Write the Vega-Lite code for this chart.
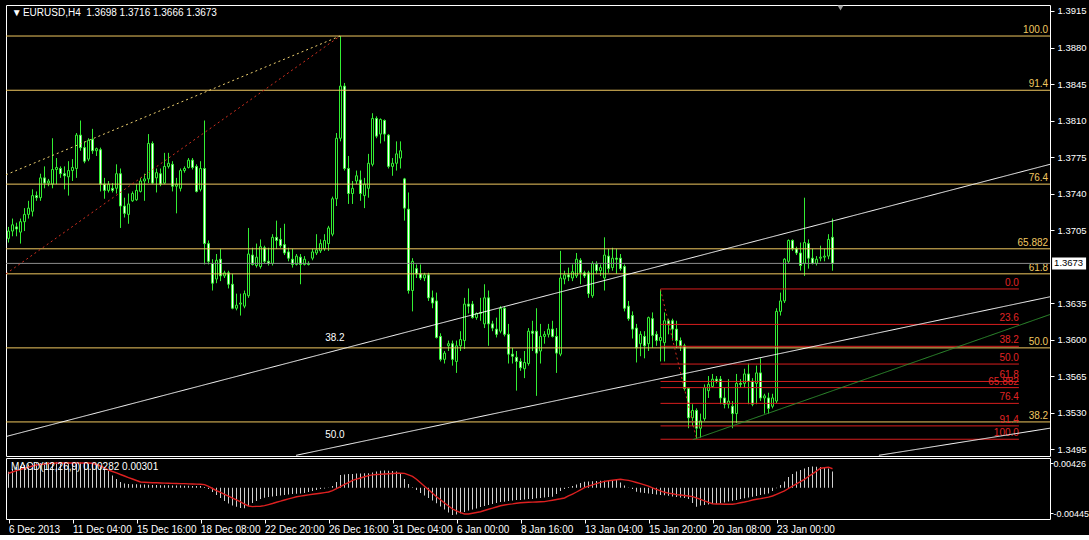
{
"$schema": "https://vega.github.io/schema/vega-lite/v6.json",
"background": "#000000",
"padding": {"left": 3, "top": 4, "right": 0, "bottom": 0},
"spacing": -1,
"config": {
 "view": {"stroke": "#ffffff", "strokeWidth": 1},
 "axis": {"grid": false, "domain": false, "labelColor": "#ffffff", "tickColor": "#ffffff", "labelFont": "Liberation Sans", "labelFontSize": 9.5, "tickSize": 4},
 "text": {"font": "Liberation Sans", "fontSize": 9.5}
},
"datasets": {
"bars": [
{"i":0,"o":1.3697,"h":1.3708,"l":1.3693,"c":1.3704,"m":0.00278,"s":0.00251},
{"i":1,"o":1.3704,"h":1.3716,"l":1.3699,"c":1.3710,"m":0.00325,"s":0.00273},
{"i":2,"o":1.3708,"h":1.3712,"l":1.3699,"c":1.3706,"m":0.00360,"s":0.00296},
{"i":3,"o":1.3703,"h":1.3716,"l":1.3692,"c":1.3713,"m":0.00378,"s":0.00317},
{"i":4,"o":1.3713,"h":1.3726,"l":1.3704,"c":1.3720,"m":0.00395,"s":0.00338},
{"i":5,"o":1.3720,"h":1.3733,"l":1.3716,"c":1.3726,"m":0.00404,"s":0.00357},
{"i":6,"o":1.3723,"h":1.3744,"l":1.3718,"c":1.3738,"m":0.00412,"s":0.00378},
{"i":7,"o":1.3738,"h":1.3742,"l":1.3733,"c":1.3736,"m":0.00425,"s":0.00395},
{"i":8,"o":1.3736,"h":1.3759,"l":1.3733,"c":1.3755,"m":0.00430,"s":0.00404},
{"i":9,"o":1.3755,"h":1.3766,"l":1.3745,"c":1.3750,"m":0.00435,"s":0.00412},
{"i":10,"o":1.3750,"h":1.3754,"l":1.3747,"c":1.3752,"m":0.00438,"s":0.00421},
{"i":11,"o":1.3749,"h":1.3793,"l":1.3745,"c":1.3763,"m":0.00442,"s":0.00426},
{"i":12,"o":1.3763,"h":1.3774,"l":1.3749,"c":1.3765,"m":0.00447,"s":0.00430},
{"i":13,"o":1.3764,"h":1.3766,"l":1.3755,"c":1.3759,"m":0.00447,"s":0.00430},
{"i":14,"o":1.3759,"h":1.3766,"l":1.3744,"c":1.3757,"m":0.00442,"s":0.00430},
{"i":15,"o":1.3756,"h":1.3771,"l":1.3738,"c":1.3762,"m":0.00438,"s":0.00430},
{"i":16,"o":1.3762,"h":1.3773,"l":1.3752,"c":1.3765,"m":0.00438,"s":0.00430},
{"i":17,"o":1.3764,"h":1.3798,"l":1.3755,"c":1.3796,"m":0.00442,"s":0.00430},
{"i":18,"o":1.3796,"h":1.3810,"l":1.3781,"c":1.3784,"m":0.00438,"s":0.00430},
{"i":19,"o":1.3784,"h":1.3790,"l":1.3769,"c":1.3771,"m":0.00430,"s":0.00430},
{"i":20,"o":1.3773,"h":1.3793,"l":1.3771,"c":1.3791,"m":0.00421,"s":0.00430},
{"i":21,"o":1.3792,"h":1.3802,"l":1.3778,"c":1.3781,"m":0.00412,"s":0.00425},
{"i":22,"o":1.3781,"h":1.3784,"l":1.3776,"c":1.3783,"m":0.00395,"s":0.00404},
{"i":23,"o":1.3782,"h":1.3784,"l":1.3742,"c":1.3749,"m":0.00378,"s":0.00378},
{"i":24,"o":1.3749,"h":1.3755,"l":1.3735,"c":1.3743,"m":0.00360,"s":0.00343},
{"i":25,"o":1.3743,"h":1.3752,"l":1.3741,"c":1.3749,"m":0.00291,"s":0.00308},
{"i":26,"o":1.3745,"h":1.3750,"l":1.3741,"c":1.3743,"m":0.00212,"s":0.00282},
{"i":27,"o":1.3745,"h":1.3768,"l":1.3740,"c":1.3759,"m":0.00151,"s":0.00259},
{"i":28,"o":1.3759,"h":1.3764,"l":1.3707,"c":1.3728,"m":0.00099,"s":0.00230},
{"i":29,"o":1.3728,"h":1.3736,"l":1.3717,"c":1.3721,"m":0.00073,"s":0.00204},
{"i":30,"o":1.3720,"h":1.3740,"l":1.3711,"c":1.3730,"m":0.00064,"s":0.00177},
{"i":31,"o":1.3733,"h":1.3742,"l":1.3732,"c":1.3740,"m":0.00061,"s":0.00151},
{"i":32,"o":1.3734,"h":1.3749,"l":1.3733,"c":1.3743,"m":0.00059,"s":0.00125},
{"i":33,"o":1.3742,"h":1.3755,"l":1.3741,"c":1.3752,"m":0.00056,"s":0.00099},
{"i":34,"o":1.3752,"h":1.3759,"l":1.3733,"c":1.3754,"m":0.00054,"s":0.00094},
{"i":35,"o":1.3754,"h":1.3797,"l":1.3750,"c":1.3788,"m":0.00050,"s":0.00090},
{"i":36,"o":1.3788,"h":1.3790,"l":1.3749,"c":1.3750,"m":0.00047,"s":0.00087},
{"i":37,"o":1.3755,"h":1.3764,"l":1.3741,"c":1.3760,"m":0.00047,"s":0.00085},
{"i":38,"o":1.3759,"h":1.3764,"l":1.3747,"c":1.3749,"m":0.00044,"s":0.00082},
{"i":39,"o":1.3750,"h":1.3779,"l":1.3749,"c":1.3766,"m":0.00042,"s":0.00080},
{"i":40,"o":1.3766,"h":1.3779,"l":1.3764,"c":1.3769,"m":0.00042,"s":0.00077},
{"i":41,"o":1.3768,"h":1.3771,"l":1.3742,"c":1.3747,"m":0.00040,"s":0.00075},
{"i":42,"o":1.3747,"h":1.3755,"l":1.3721,"c":1.3749,"m":0.00038,"s":0.00073},
{"i":43,"o":1.3745,"h":1.3764,"l":1.3742,"c":1.3762,"m":0.00037,"s":0.00071},
{"i":44,"o":1.3762,"h":1.3766,"l":1.3760,"c":1.3764,"m":0.00035,"s":0.00070},
{"i":45,"o":1.3765,"h":1.3774,"l":1.3764,"c":1.3772,"m":0.00033,"s":0.00066},
{"i":46,"o":1.3772,"h":1.3774,"l":1.3763,"c":1.3765,"m":0.00031,"s":0.00064},
{"i":47,"o":1.3766,"h":1.3768,"l":1.3741,"c":1.3742,"m":0.00030,"s":0.00063},
{"i":48,"o":1.3744,"h":1.3771,"l":1.3742,"c":1.3764,"m":0.00030,"s":0.00061},
{"i":49,"o":1.3764,"h":1.3810,"l":1.3672,"c":1.3692,"m":0.00012,"s":0.00054},
{"i":50,"o":1.3692,"h":1.3695,"l":1.3672,"c":1.3675,"m":-0.00023,"s":0.00021},
{"i":51,"o":1.3673,"h":1.3677,"l":1.3647,"c":1.3654,"m":-0.00075,"s":-0.00014},
{"i":52,"o":1.3658,"h":1.3682,"l":1.3654,"c":1.3676,"m":-0.00127,"s":-0.00049},
{"i":53,"o":1.3677,"h":1.3687,"l":1.3656,"c":1.3661,"m":-0.00179,"s":-0.00082},
{"i":54,"o":1.3661,"h":1.3666,"l":1.3659,"c":1.3664,"m":-0.00231,"s":-0.00115},
{"i":55,"o":1.3664,"h":1.3666,"l":1.3649,"c":1.3653,"m":-0.00275,"s":-0.00148},
{"i":56,"o":1.3653,"h":1.3663,"l":1.3629,"c":1.3630,"m":-0.00310,"s":-0.00181},
{"i":57,"o":1.3630,"h":1.3644,"l":1.3628,"c":1.3633,"m":-0.00331,"s":-0.00214},
{"i":58,"o":1.3634,"h":1.3644,"l":1.3623,"c":1.3635,"m":-0.00353,"s":-0.00249},
{"i":59,"o":1.3632,"h":1.3647,"l":1.3630,"c":1.3644,"m":-0.00358,"s":-0.00284},
{"i":60,"o":1.3642,"h":1.3707,"l":1.3640,"c":1.3682,"m":-0.00318,"s":-0.00318},
{"i":61,"o":1.3681,"h":1.3688,"l":1.3671,"c":1.3672,"m":-0.00266,"s":-0.00329},
{"i":62,"o":1.3671,"h":1.3692,"l":1.3669,"c":1.3679,"m":-0.00231,"s":-0.00325},
{"i":63,"o":1.3670,"h":1.3696,"l":1.3668,"c":1.3689,"m":-0.00197,"s":-0.00322},
{"i":64,"o":1.3688,"h":1.3690,"l":1.3673,"c":1.3675,"m":-0.00174,"s":-0.00313},
{"i":65,"o":1.3675,"h":1.3688,"l":1.3671,"c":1.3673,"m":-0.00162,"s":-0.00294},
{"i":66,"o":1.3673,"h":1.3701,"l":1.3671,"c":1.3698,"m":-0.00153,"s":-0.00275},
{"i":67,"o":1.3698,"h":1.3714,"l":1.3687,"c":1.3695,"m":-0.00144,"s":-0.00254},
{"i":68,"o":1.3696,"h":1.3707,"l":1.3688,"c":1.3690,"m":-0.00136,"s":-0.00235},
{"i":69,"o":1.3691,"h":1.3711,"l":1.3681,"c":1.3683,"m":-0.00127,"s":-0.00214},
{"i":70,"o":1.3684,"h":1.3688,"l":1.3675,"c":1.3678,"m":-0.00118,"s":-0.00195},
{"i":71,"o":1.3677,"h":1.3687,"l":1.3669,"c":1.3672,"m":-0.00110,"s":-0.00176},
{"i":72,"o":1.3672,"h":1.3682,"l":1.3671,"c":1.3680,"m":-0.00104,"s":-0.00157},
{"i":73,"o":1.3679,"h":1.3682,"l":1.3653,"c":1.3672,"m":-0.00099,"s":-0.00146},
{"i":74,"o":1.3672,"h":1.3680,"l":1.3671,"c":1.3677,"m":-0.00092,"s":-0.00136},
{"i":75,"o":1.3673,"h":1.3675,"l":1.3671,"c":1.3672,"m":-0.00075,"s":-0.00125},
{"i":76,"o":1.3678,"h":1.3687,"l":1.3676,"c":1.3684,"m":-0.00057,"s":-0.00115},
{"i":77,"o":1.3683,"h":1.3701,"l":1.3681,"c":1.3686,"m":-0.00040,"s":-0.00106},
{"i":78,"o":1.3685,"h":1.3696,"l":1.3683,"c":1.3692,"m":-0.00023,"s":-0.00096},
{"i":79,"o":1.3687,"h":1.3701,"l":1.3685,"c":1.3695,"m":-0.00014,"s":-0.00085},
{"i":80,"o":1.3692,"h":1.3709,"l":1.3685,"c":1.3707,"m":0.00003,"s":-0.00075},
{"i":81,"o":1.3701,"h":1.3737,"l":1.3699,"c":1.3735,"m":0.00030,"s":-0.00052},
{"i":82,"o":1.3735,"h":1.3798,"l":1.3728,"c":1.3793,"m":0.00099,"s":-0.00016},
{"i":83,"o":1.3793,"h":1.3891,"l":1.3790,"c":1.3843,"m":0.00221,"s":0.00019},
{"i":84,"o":1.3843,"h":1.3846,"l":1.3762,"c":1.3764,"m":0.00230,"s":0.00056},
{"i":85,"o":1.3764,"h":1.3776,"l":1.3730,"c":1.3740,"m":0.00238,"s":0.00090},
{"i":86,"o":1.3740,"h":1.3752,"l":1.3730,"c":1.3745,"m":0.00238,"s":0.00129},
{"i":87,"o":1.3752,"h":1.3762,"l":1.3749,"c":1.3757,"m":0.00247,"s":0.00150},
{"i":88,"o":1.3753,"h":1.3762,"l":1.3733,"c":1.3740,"m":0.00247,"s":0.00169},
{"i":89,"o":1.3738,"h":1.3755,"l":1.3726,"c":1.3749,"m":0.00251,"s":0.00190},
{"i":90,"o":1.3745,"h":1.3778,"l":1.3736,"c":1.3769,"m":0.00251,"s":0.00211},
{"i":91,"o":1.3768,"h":1.3817,"l":1.3766,"c":1.3812,"m":0.00264,"s":0.00224},
{"i":92,"o":1.3812,"h":1.3814,"l":1.3793,"c":1.3795,"m":0.00282,"s":0.00230},
{"i":93,"o":1.3797,"h":1.3812,"l":1.3788,"c":1.3811,"m":0.00296,"s":0.00233},
{"i":94,"o":1.3810,"h":1.3811,"l":1.3790,"c":1.3797,"m":0.00299,"s":0.00238},
{"i":95,"o":1.3796,"h":1.3797,"l":1.3764,"c":1.3766,"m":0.00296,"s":0.00242},
{"i":96,"o":1.3766,"h":1.3774,"l":1.3757,"c":1.3769,"m":0.00291,"s":0.00247},
{"i":97,"o":1.3769,"h":1.3790,"l":1.3762,"c":1.3778,"m":0.00282,"s":0.00251},
{"i":98,"o":1.3774,"h":1.3790,"l":1.3764,"c":1.3781,"m":0.00256,"s":0.00254},
{"i":99,"o":1.3754,"h":1.3755,"l":1.3714,"c":1.3726,"m":0.00151,"s":0.00249},
{"i":100,"o":1.3725,"h":1.3741,"l":1.3644,"c":1.3647,"m":0.00064,"s":0.00224},
{"i":101,"o":1.3647,"h":1.3678,"l":1.3627,"c":1.3675,"m":0.00007,"s":0.00198},
{"i":102,"o":1.3668,"h":1.3672,"l":1.3659,"c":1.3663,"m":-0.00040,"s":0.00146},
{"i":103,"o":1.3663,"h":1.3672,"l":1.3657,"c":1.3659,"m":-0.00092,"s":0.00085},
{"i":104,"o":1.3659,"h":1.3664,"l":1.3656,"c":1.3662,"m":-0.00136,"s":0.00026},
{"i":105,"o":1.3662,"h":1.3664,"l":1.3637,"c":1.3640,"m":-0.00179,"s":-0.00033},
{"i":106,"o":1.3640,"h":1.3647,"l":1.3630,"c":1.3635,"m":-0.00223,"s":-0.00096},
{"i":107,"o":1.3637,"h":1.3645,"l":1.3601,"c":1.3602,"m":-0.00271,"s":-0.00157},
{"i":108,"o":1.3603,"h":1.3606,"l":1.3579,"c":1.3581,"m":-0.00327,"s":-0.00211},
{"i":109,"o":1.3581,"h":1.3589,"l":1.3577,"c":1.3587,"m":-0.00379,"s":-0.00266},
{"i":110,"o":1.3594,"h":1.3599,"l":1.3589,"c":1.3596,"m":-0.00432,"s":-0.00318},
{"i":111,"o":1.3596,"h":1.3599,"l":1.3575,"c":1.3581,"m":-0.00475,"s":-0.00371},
{"i":112,"o":1.3579,"h":1.3599,"l":1.3568,"c":1.3594,"m":-0.00466,"s":-0.00405},
{"i":113,"o":1.3594,"h":1.3608,"l":1.3589,"c":1.3600,"m":-0.00445,"s":-0.00435},
{"i":114,"o":1.3599,"h":1.3640,"l":1.3591,"c":1.3634,"m":-0.00423,"s":-0.00458},
{"i":115,"o":1.3634,"h":1.3649,"l":1.3625,"c":1.3632,"m":-0.00397,"s":-0.00459},
{"i":116,"o":1.3634,"h":1.3637,"l":1.3620,"c":1.3621,"m":-0.00379,"s":-0.00445},
{"i":117,"o":1.3621,"h":1.3626,"l":1.3619,"c":1.3625,"m":-0.00362,"s":-0.00432},
{"i":118,"o":1.3625,"h":1.3640,"l":1.3618,"c":1.3626,"m":-0.00336,"s":-0.00418},
{"i":119,"o":1.3615,"h":1.3653,"l":1.3611,"c":1.3640,"m":-0.00318,"s":-0.00397},
{"i":120,"o":1.3640,"h":1.3647,"l":1.3594,"c":1.3615,"m":-0.00301,"s":-0.00376},
{"i":121,"o":1.3615,"h":1.3618,"l":1.3608,"c":1.3611,"m":-0.00284,"s":-0.00357},
{"i":122,"o":1.3610,"h":1.3621,"l":1.3602,"c":1.3605,"m":-0.00266,"s":-0.00336},
{"i":123,"o":1.3608,"h":1.3632,"l":1.3606,"c":1.3630,"m":-0.00249,"s":-0.00315},
{"i":124,"o":1.3630,"h":1.3632,"l":1.3603,"c":1.3605,"m":-0.00244,"s":-0.00301},
{"i":125,"o":1.3605,"h":1.3615,"l":1.3577,"c":1.3586,"m":-0.00231,"s":-0.00291},
{"i":126,"o":1.3586,"h":1.3592,"l":1.3577,"c":1.3584,"m":-0.00223,"s":-0.00282},
{"i":127,"o":1.3583,"h":1.3589,"l":1.3551,"c":1.3579,"m":-0.00214,"s":-0.00271},
{"i":128,"o":1.3579,"h":1.3582,"l":1.3570,"c":1.3573,"m":-0.00214,"s":-0.00261},
{"i":129,"o":1.3572,"h":1.3589,"l":1.3563,"c":1.3578,"m":-0.00205,"s":-0.00258},
{"i":130,"o":1.3577,"h":1.3611,"l":1.3575,"c":1.3608,"m":-0.00197,"s":-0.00254},
{"i":131,"o":1.3608,"h":1.3618,"l":1.3589,"c":1.3606,"m":-0.00197,"s":-0.00252},
{"i":132,"o":1.3608,"h":1.3630,"l":1.3546,"c":1.3587,"m":-0.00184,"s":-0.00249},
{"i":133,"o":1.3589,"h":1.3615,"l":1.3577,"c":1.3603,"m":-0.00179,"s":-0.00245},
{"i":134,"o":1.3603,"h":1.3608,"l":1.3596,"c":1.3605,"m":-0.00171,"s":-0.00242},
{"i":135,"o":1.3605,"h":1.3615,"l":1.3602,"c":1.3610,"m":-0.00162,"s":-0.00230},
{"i":136,"o":1.3610,"h":1.3618,"l":1.3602,"c":1.3603,"m":-0.00157,"s":-0.00218},
{"i":137,"o":1.3603,"h":1.3611,"l":1.3568,"c":1.3587,"m":-0.00110,"s":-0.00205},
{"i":138,"o":1.3586,"h":1.3685,"l":1.3584,"c":1.3659,"m":-0.00057,"s":-0.00193},
{"i":139,"o":1.3658,"h":1.3666,"l":1.3653,"c":1.3662,"m":-0.00023,"s":-0.00179},
{"i":140,"o":1.3662,"h":1.3669,"l":1.3656,"c":1.3660,"m":0.00012,"s":-0.00144},
{"i":141,"o":1.3659,"h":1.3672,"l":1.3656,"c":1.3665,"m":0.00030,"s":-0.00110},
{"i":142,"o":1.3661,"h":1.3683,"l":1.3659,"c":1.3677,"m":0.00056,"s":-0.00075},
{"i":143,"o":1.3676,"h":1.3678,"l":1.3653,"c":1.3664,"m":0.00082,"s":-0.00037},
{"i":144,"o":1.3664,"h":1.3666,"l":1.3659,"c":1.3661,"m":0.00104,"s":0.00000},
{"i":145,"o":1.3664,"h":1.3666,"l":1.3640,"c":1.3644,"m":0.00108,"s":0.00028},
{"i":146,"o":1.3642,"h":1.3675,"l":1.3640,"c":1.3673,"m":0.00113,"s":0.00049},
{"i":147,"o":1.3672,"h":1.3675,"l":1.3663,"c":1.3666,"m":0.00117,"s":0.00070},
{"i":148,"o":1.3666,"h":1.3672,"l":1.3661,"c":1.3669,"m":0.00120,"s":0.00092},
{"i":149,"o":1.3659,"h":1.3698,"l":1.3647,"c":1.3681,"m":0.00122,"s":0.00110},
{"i":150,"o":1.3680,"h":1.3687,"l":1.3664,"c":1.3668,"m":0.00125,"s":0.00120},
{"i":151,"o":1.3669,"h":1.3688,"l":1.3666,"c":1.3678,"m":0.00131,"s":0.00129},
{"i":152,"o":1.3678,"h":1.3687,"l":1.3663,"c":1.3677,"m":0.00134,"s":0.00139},
{"i":153,"o":1.3678,"h":1.3682,"l":1.3666,"c":1.3668,"m":0.00090,"s":0.00146},
{"i":154,"o":1.3670,"h":1.3672,"l":1.3627,"c":1.3630,"m":0.00038,"s":0.00137},
{"i":155,"o":1.3632,"h":1.3637,"l":1.3618,"c":1.3620,"m":0.00003,"s":0.00127},
{"i":156,"o":1.3623,"h":1.3627,"l":1.3601,"c":1.3610,"m":-0.00023,"s":0.00111},
{"i":157,"o":1.3611,"h":1.3615,"l":1.3578,"c":1.3592,"m":-0.00070,"s":0.00090},
{"i":158,"o":1.3596,"h":1.3608,"l":1.3584,"c":1.3605,"m":-0.00084,"s":0.00070},
{"i":159,"o":1.3603,"h":1.3608,"l":1.3582,"c":1.3594,"m":-0.00092,"s":0.00049},
{"i":160,"o":1.3596,"h":1.3622,"l":1.3589,"c":1.3621,"m":-0.00101,"s":0.00028},
{"i":161,"o":1.3620,"h":1.3626,"l":1.3592,"c":1.3604,"m":-0.00110,"s":-0.00003},
{"i":162,"o":1.3605,"h":1.3608,"l":1.3594,"c":1.3599,"m":-0.00118,"s":-0.00030},
{"i":163,"o":1.3599,"h":1.3648,"l":1.3579,"c":1.3602,"m":-0.00127,"s":-0.00056},
{"i":164,"o":1.3597,"h":1.3626,"l":1.3579,"c":1.3618,"m":-0.00131,"s":-0.00080},
{"i":165,"o":1.3618,"h":1.3620,"l":1.3605,"c":1.3614,"m":-0.00141,"s":-0.00094},
{"i":166,"o":1.3618,"h":1.3620,"l":1.3599,"c":1.3610,"m":-0.00153,"s":-0.00106},
{"i":167,"o":1.3610,"h":1.3618,"l":1.3592,"c":1.3599,"m":-0.00162,"s":-0.00120},
{"i":168,"o":1.3599,"h":1.3602,"l":1.3589,"c":1.3594,"m":-0.00171,"s":-0.00127},
{"i":169,"o":1.3594,"h":1.3596,"l":1.3551,"c":1.3553,"m":-0.00179,"s":-0.00136},
{"i":170,"o":1.3553,"h":1.3554,"l":1.3515,"c":1.3525,"m":-0.00197,"s":-0.00144},
{"i":171,"o":1.3525,"h":1.3538,"l":1.3517,"c":1.3532,"m":-0.00266,"s":-0.00155},
{"i":172,"o":1.3532,"h":1.3534,"l":1.3505,"c":1.3515,"m":-0.00331,"s":-0.00176},
{"i":173,"o":1.3515,"h":1.3529,"l":1.3506,"c":1.3522,"m":-0.00310,"s":-0.00202},
{"i":174,"o":1.3524,"h":1.3557,"l":1.3522,"c":1.3554,"m":-0.00301,"s":-0.00228},
{"i":175,"o":1.3551,"h":1.3565,"l":1.3544,"c":1.3557,"m":-0.00292,"s":-0.00254},
{"i":176,"o":1.3555,"h":1.3567,"l":1.3554,"c":1.3562,"m":-0.00284,"s":-0.00280},
{"i":177,"o":1.3562,"h":1.3565,"l":1.3558,"c":1.3560,"m":-0.00278,"s":-0.00284},
{"i":178,"o":1.3562,"h":1.3565,"l":1.3538,"c":1.3544,"m":-0.00271,"s":-0.00285},
{"i":179,"o":1.3544,"h":1.3554,"l":1.3534,"c":1.3538,"m":-0.00258,"s":-0.00287},
{"i":180,"o":1.3538,"h":1.3562,"l":1.3534,"c":1.3541,"m":-0.00240,"s":-0.00289},
{"i":181,"o":1.3536,"h":1.3541,"l":1.3515,"c":1.3529,"m":-0.00228,"s":-0.00289},
{"i":182,"o":1.3529,"h":1.3567,"l":1.3520,"c":1.3558,"m":-0.00214,"s":-0.00278},
{"i":183,"o":1.3558,"h":1.3562,"l":1.3554,"c":1.3557,"m":-0.00197,"s":-0.00263},
{"i":184,"o":1.3558,"h":1.3572,"l":1.3554,"c":1.3567,"m":-0.00184,"s":-0.00249},
{"i":185,"o":1.3567,"h":1.3577,"l":1.3538,"c":1.3560,"m":-0.00171,"s":-0.00233},
{"i":186,"o":1.3560,"h":1.3563,"l":1.3536,"c":1.3538,"m":-0.00157,"s":-0.00214},
{"i":187,"o":1.3558,"h":1.3575,"l":1.3538,"c":1.3568,"m":-0.00144,"s":-0.00202},
{"i":188,"o":1.3568,"h":1.3582,"l":1.3541,"c":1.3544,"m":-0.00127,"s":-0.00191},
{"i":189,"o":1.3544,"h":1.3548,"l":1.3529,"c":1.3546,"m":-0.00115,"s":-0.00177},
{"i":190,"o":1.3544,"h":1.3549,"l":1.3529,"c":1.3534,"m":-0.00101,"s":-0.00164},
{"i":191,"o":1.3536,"h":1.3548,"l":1.3534,"c":1.3544,"m":-0.00057,"s":-0.00144},
{"i":192,"o":1.3541,"h":1.3630,"l":1.3539,"c":1.3627,"m":-0.00010,"s":-0.00115},
{"i":193,"o":1.3627,"h":1.3645,"l":1.3623,"c":1.3637,"m":0.00047,"s":-0.00085},
{"i":194,"o":1.3637,"h":1.3678,"l":1.3635,"c":1.3677,"m":0.00108,"s":-0.00056},
{"i":195,"o":1.3675,"h":1.3696,"l":1.3673,"c":1.3695,"m":0.00186,"s":-0.00014},
{"i":196,"o":1.3695,"h":1.3696,"l":1.3685,"c":1.3687,"m":0.00238,"s":0.00026},
{"i":197,"o":1.3687,"h":1.3689,"l":1.3681,"c":1.3683,"m":0.00282,"s":0.00068},
{"i":198,"o":1.3683,"h":1.3693,"l":1.3666,"c":1.3671,"m":0.00308,"s":0.00106},
{"i":199,"o":1.3673,"h":1.3736,"l":1.3661,"c":1.3693,"m":0.00334,"s":0.00146},
{"i":200,"o":1.3692,"h":1.3696,"l":1.3668,"c":1.3678,"m":0.00360,"s":0.00195},
{"i":201,"o":1.3678,"h":1.3687,"l":1.3672,"c":1.3673,"m":0.00369,"s":0.00242},
{"i":202,"o":1.3673,"h":1.3680,"l":1.3671,"c":1.3677,"m":0.00365,"s":0.00289},
{"i":203,"o":1.3678,"h":1.3690,"l":1.3675,"c":1.3679,"m":0.00360,"s":0.00338},
{"i":204,"o":1.3679,"h":1.3687,"l":1.3675,"c":1.3680,"m":0.00355,"s":0.00348},
{"i":205,"o":1.3680,"h":1.3701,"l":1.3677,"c":1.3696,"m":0.00334,"s":0.00357},
{"i":206,"o":1.3698,"h":1.3716,"l":1.3666,"c":1.3673,"m":0.00282,"s":0.00330}
]
},
"vconcat": [
{
 "width": 1044,
 "height": 451,
 "layer": [
  {
   "data": {"name": "bars"},
   "mark": {"type": "rule", "color": "#33ee33", "strokeWidth": 1},
   "encoding": {
    "x": {"field": "i", "type": "quantitative", "scale": {"domain": [-0.625, 260.375], "nice": false, "zero": false, "padding": 0}, "axis": null},
    "y": {"field": "l", "type": "quantitative", "scale": {"domain": [1.348834, 1.392075], "nice": false, "zero": false, "padding": 0},
          "axis": {"orient": "right", "values": [1.3915, 1.388, 1.3845, 1.381, 1.3775, 1.374, 1.3705, 1.3635, 1.36, 1.3565, 1.353, 1.3495], "format": ".4f", "title": null, "labelPadding": 3}},
    "y2": {"field": "h"}
   }
  },
  {
   "data": {"name": "bars"},
   "mark": {"type": "bar", "width": 2, "stroke": "#33ee33", "strokeWidth": 1},
   "encoding": {
    "x": {"field": "i", "type": "quantitative", "axis": null},
    "y": {"field": "o", "type": "quantitative", "title": null},
    "y2": {"field": "c"},
    "fill": {"condition": {"test": "datum.c < datum.o", "value": "#ffffff"}, "value": "#000000"}
   }
  },
  {
   "data": {"values": [
    {"p": 1.3891, "t": "100.0"}, {"p": 1.3839, "t": "91.4"}, {"p": 1.3749, "t": "76.4"},
    {"p": 1.3687, "t": "65.882"}, {"p": 1.3663, "t": "61.8"}, {"p": 1.3592, "t": "50.0"}, {"p": 1.3521, "t": "38.2"}
   ]},
   "mark": {"type": "rule", "color": "#f0c860", "strokeWidth": 1},
   "encoding": {"y": {"field": "p", "type": "quantitative", "title": null}}
  },
  {
   "data": {"values": [
    {"p": 1.3891, "t": "100.0"}, {"p": 1.3839, "t": "91.4"}, {"p": 1.3749, "t": "76.4"},
    {"p": 1.3687, "t": "65.882"}, {"p": 1.3663, "t": "61.8"}, {"p": 1.3592, "t": "50.0"}, {"p": 1.3521, "t": "38.2"}
   ]},
   "mark": {"type": "text", "align": "right", "baseline": "bottom", "dy": -1, "color": "#f0c860", "fontSize": 10},
   "encoding": {
    "x": {"datum": 259.9, "type": "quantitative", "axis": null},
    "y": {"field": "p", "type": "quantitative", "title": null},
    "text": {"field": "t"}
   }
  },
  {
   "data": {"values": [{"p": 1.3673}]},
   "mark": {"type": "rule", "color": "#8c8c8c", "strokeWidth": 1},
   "encoding": {"y": {"field": "p", "type": "quantitative", "title": null}}
  },
  {
   "data": {"values": [
    {"a": 163, "b": 252.6, "p": 1.36485, "t": "0.0"}, {"a": 163, "b": 252.6, "p": 1.36145, "t": "23.6"}, {"a": 163, "b": 252.6, "p": 1.35935, "t": "38.2"},
    {"a": 163, "b": 252.6, "p": 1.35765, "t": "50.0"}, {"a": 163, "b": 252.6, "p": 1.35598, "t": "61.8"}, {"a": 163, "b": 252.6, "p": 1.35539, "t": "65.882"},
    {"a": 163, "b": 252.6, "p": 1.35388, "t": "76.4"}, {"a": 163, "b": 252.6, "p": 1.35172, "t": "91.4"}, {"a": 163, "b": 252.6, "p": 1.35044, "t": "100.0"}
   ]},
   "mark": {"type": "rule", "color": "#d81e1e", "strokeWidth": 1},
   "encoding": {
    "x": {"field": "a", "type": "quantitative", "axis": null},
    "x2": {"field": "b"},
    "y": {"field": "p", "type": "quantitative", "title": null}
   }
  },
  {
   "data": {"values": [
    {"b": 252.6, "p": 1.36485, "t": "0.0"}, {"b": 252.6, "p": 1.36145, "t": "23.6"}, {"b": 252.6, "p": 1.35935, "t": "38.2"},
    {"b": 252.6, "p": 1.35765, "t": "50.0"}, {"b": 252.6, "p": 1.35598, "t": "61.8"}, {"b": 252.6, "p": 1.35539, "t": "65.882"},
    {"b": 252.6, "p": 1.35388, "t": "76.4"}, {"b": 252.6, "p": 1.35172, "t": "91.4"}, {"b": 252.6, "p": 1.35044, "t": "100.0"}
   ]},
   "mark": {"type": "text", "align": "right", "baseline": "bottom", "dy": -1, "color": "#e02424", "fontSize": 10},
   "encoding": {
    "x": {"field": "b", "type": "quantitative", "axis": null},
    "y": {"field": "p", "type": "quantitative", "title": null},
    "text": {"field": "t"}
   }
  },
  {
   "data": {"values": [
    {"g": "w1", "i": -0.625, "p": 1.3507}, {"g": "w1", "i": 260.375, "p": 1.3768},
    {"g": "w2", "i": 71.9, "p": 1.3489}, {"g": "w2", "i": 260.375, "p": 1.3641},
    {"g": "w3", "i": 217.6, "p": 1.3489}, {"g": "w3", "i": 260.375, "p": 1.3515},
    {"g": "gr", "i": 171.1, "p": 1.3504}, {"g": "gr", "i": 260.375, "p": 1.3624},
    {"g": "yd", "i": -0.625, "p": 1.3758}, {"g": "yd", "i": 82.9, "p": 1.3891},
    {"g": "rd", "i": -0.625, "p": 1.3663}, {"g": "rd", "i": 82.9, "p": 1.3891},
    {"g": "rf", "i": 163, "p": 1.3648}, {"g": "rf", "i": 172, "p": 1.3505}
   ]},
   "mark": {"type": "line", "strokeWidth": 1},
   "encoding": {
    "x": {"field": "i", "type": "quantitative", "axis": null},
    "y": {"field": "p", "type": "quantitative", "title": null},
    "color": {"field": "g", "type": "nominal", "legend": null,
              "scale": {"domain": ["w1", "w2", "w3", "gr", "yd", "rd", "rf"], "range": ["#ffffff", "#ffffff", "#ffffff", "#2f8f2f", "#eed070", "#d03020", "#d03020"]}},
    "strokeDash": {"field": "g", "type": "nominal", "legend": null,
              "scale": {"domain": ["w1", "w2", "w3", "gr", "yd", "rd", "rf"], "range": [[1, 0], [1, 0], [1, 0], [1, 0], [2, 3], [2, 3], [2, 3]]}}
   }
  },
  {
   "data": {"values": [
    {"i": 81.6, "p": 1.35967, "t": "38.2"},
    {"i": 81.6, "p": 1.35037, "t": "50.0"}
   ]},
   "mark": {"type": "text", "align": "center", "baseline": "bottom", "color": "#ffffff", "fontSize": 10},
   "encoding": {
    "x": {"field": "i", "type": "quantitative", "axis": null},
    "y": {"field": "p", "type": "quantitative", "title": null},
    "text": {"field": "t"}
   }
  },
  {
   "data": {"values": [
    {"i": 0.8, "p": 1.39131, "t": "▼"},
    {"i": 3.6, "p": 1.39131, "t": "EURUSD,H4\u00a0 1.3698 1.3716 1.3666 1.3673"}
   ]},
   "mark": {"type": "text", "align": "left", "baseline": "middle", "color": "#ffffff", "fontSize": 10},
   "encoding": {
    "x": {"field": "i", "type": "quantitative", "axis": null},
    "y": {"field": "p", "type": "quantitative", "title": null},
    "text": {"field": "t"}
   }
  },
  {
   "data": {"values": [{"i": 208, "p": 1.39179}]},
   "mark": {"type": "point", "shape": "triangle-down", "filled": true, "color": "#9a9a9a", "size": 35, "opacity": 1},
   "encoding": {
    "x": {"field": "i", "type": "quantitative", "axis": null},
    "y": {"field": "p", "type": "quantitative", "title": null}
   }
  },
  {
   "data": {"values": [{"i": 260.9, "i2": 269.4, "p": 1.36787, "p2": 1.36672}]},
   "mark": {"type": "rect", "color": "#ffffff"},
   "encoding": {
    "x": {"field": "i", "type": "quantitative", "axis": null},
    "x2": {"field": "i2"},
    "y": {"field": "p", "type": "quantitative", "title": null},
    "y2": {"field": "p2"}
   }
  },
  {
   "data": {"values": [{"i": 261.4, "p": 1.3673, "t": "1.3673"}]},
   "mark": {"type": "text", "align": "left", "baseline": "middle", "color": "#000000"},
   "encoding": {
    "x": {"field": "i", "type": "quantitative", "axis": null},
    "y": {"field": "p", "type": "quantitative", "title": null},
    "text": {"field": "t"}
   }
  }
 ]
},
{
 "width": 1044,
 "height": 61,
 "layer": [
  {
   "data": {"name": "bars"},
   "mark": {"type": "bar", "width": 1, "color": "#cfcfcf"},
   "encoding": {
    "x": {"field": "i", "type": "quantitative", "scale": {"domain": [-0.625, 260.375], "nice": false, "zero": false, "padding": 0},
          "axis": {"values": [0, 16, 32, 48, 64, 80, 96, 112, 128, 144, 160, 176, 192],
                   "labelExpr": "['6 Dec 2013','11 Dec 04:00','15 Dec 16:00','18 Dec 08:00','22 Dec 20:00','26 Dec 16:00','31 Dec 04:00','6 Jan 00:00','8 Jan 16:00','13 Jan 04:00','15 Jan 20:00','20 Jan 08:00','23 Jan 00:00'][round(datum.value/16)]",
                   "labelAlign": "left", "labelBaseline": "top", "labelPadding": 1, "labelFlush": false, "labelOverlap": false, "title": null, "labelFontSize": 10}},
    "y": {"field": "m", "type": "quantitative", "scale": {"domain": [-0.00545, 0.00517], "nice": false, "zero": false, "padding": 0},
          "axis": {"orient": "right", "values": [0.00426, 0, -0.00445], "title": null, "labelPadding": 0, "tickSize": 3, "labelFontSize": 9,
                   "labelExpr": "datum.value > 0.001 ? '0.00426' : (datum.value < -0.001 ? '-0.00445' : '0.00')"}}
   }
  },
  {
   "data": {"name": "bars"},
   "mark": {"type": "line", "color": "#dd2020", "strokeWidth": 1.4},
   "encoding": {
    "x": {"field": "i", "type": "quantitative", "title": null},
    "y": {"field": "s", "type": "quantitative", "title": null}
   }
  },
  {
   "data": {"values": [{"i": 0.6, "v": 0.00365, "t": "MACD(12,26,9) 0.00282 0.00301"}]},
   "mark": {"type": "text", "align": "left", "baseline": "middle", "color": "#ffffff", "fontSize": 10},
   "encoding": {
    "x": {"field": "i", "type": "quantitative", "title": null},
    "y": {"field": "v", "type": "quantitative", "title": null},
    "text": {"field": "t"}
   }
  }
 ]
}
]
}
